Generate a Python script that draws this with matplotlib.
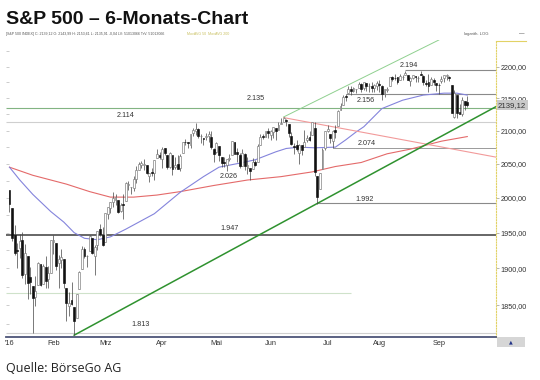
import numpy as np
import matplotlib.pyplot as plt
import matplotlib.transforms as mtrans
from matplotlib.ticker import FixedLocator, FuncFormatter, NullLocator
from matplotlib.patches import Rectangle
from matplotlib.lines import Line2D

plt.rcParams['font.family'] = ['Liberation Sans', 'DejaVu Sans']

# daily candles, 6 Jan 2016 .. 19 Sep 2016 (one row per month)
opens = [
    2011.7, 1985.3, 1946.0, 1926.1, 1927.8, 1940.3, 1891.7, 1916.7, 1888.7, 1876.2, 1861.5, 1877.4, 1906.3, 1878.8, 1902.5, 1885.2, 1894.0,
    1936.9, 1935.3, 1907.1, 1911.7, 1913.1, 1873.3, 1848.5, 1857.1, 1847.0, 1833.4, 1871.4, 1898.8, 1927.6, 1916.7, 1924.4, 1942.4, 1917.6, 1931.9, 1955.0, 1947.1,
    1937.1, 1976.6, 1985.6, 1994.0, 1996.1, 1996.1, 1981.4, 1991.0, 1994.7, 2019.3, 2015.3, 2014.2, 2026.9, 2041.2, 2047.9, 2048.6, 2048.6, 2032.5, 2037.9, 2035.8, 2058.3, 2063.8,
    2056.6, 2073.2, 2062.5, 2045.6, 2063.4, 2045.5, 2050.2, 2043.7, 2065.9, 2082.9, 2083.0, 2078.8, 2096.1, 2100.0, 2102.1, 2091.5, 2089.4, 2089.8, 2092.3, 2090.9, 2071.8,
    2067.2, 2077.2, 2060.3, 2052.9, 2047.8, 2057.6, 2062.6, 2083.3, 2067.2, 2062.5, 2046.5, 2065.0, 2044.4, 2044.2, 2041.9, 2052.2, 2052.6, 2078.9, 2091.4, 2090.1, 2100.1,
    2093.9, 2097.7, 2104.1, 2100.8, 2110.2, 2112.7, 2115.7, 2109.6, 2091.8, 2076.7, 2077.6, 2066.4, 2078.0, 2075.6, 2085.2, 2089.8, 2092.8, 2103.8, 2031.5, 2013.0, 2042.7, 2073.2,
    2099.3, 2095.1, 2084.4, 2100.4, 2107.0, 2131.7, 2139.5, 2153.8, 2157.9, 2165.1, 2162.0, 2163.8, 2166.1, 2172.9, 2166.5, 2173.7, 2169.0, 2169.8, 2166.1, 2168.8,
    2173.1, 2169.9, 2156.8, 2163.5, 2168.8, 2183.8, 2182.2, 2182.8, 2178.0, 2183.7, 2186.1, 2186.2, 2177.8, 2181.9, 2184.2, 2181.6, 2187.8, 2185.1, 2173.3, 2175.1, 2170.2, 2179.5, 2173.6,
    2171.3, 2177.5, 2181.6, 2185.2, 2182.8, 2170.9, 2120.9, 2155.4, 2127.9, 2125.4, 2146.5, 2144.0,
]
highs = [
    2011.7, 1985.3, 1960.4, 1935.7, 1947.4, 1950.3, 1934.5, 1916.7, 1901.4, 1876.2, 1889.9, 1908.9, 1906.3, 1906.7, 1917.0, 1903.0, 1940.2,
    1947.2, 1935.3, 1918.0, 1927.4, 1913.1, 1873.3, 1868.3, 1881.6, 1847.0, 1864.8, 1895.8, 1930.7, 1930.0, 1918.8, 1946.7, 1942.4, 1932.1, 1951.8, 1963.0, 1958.3,
    1978.4, 1986.5, 1993.7, 2009.1, 2006.1, 1996.1, 1992.7, 2005.1, 2022.4, 2024.6, 2015.9, 2032.0, 2046.2, 2052.4, 2053.9, 2056.6, 2048.6, 2036.0, 2043.7, 2056.0, 2072.2, 2067.9,
    2075.1, 2074.0, 2062.5, 2067.3, 2063.4, 2060.6, 2062.9, 2065.1, 2083.2, 2087.8, 2083.2, 2094.7, 2104.1, 2111.1, 2103.8, 2094.3, 2089.4, 2096.9, 2099.9, 2099.1, 2073.9,
    2083.4, 2077.2, 2060.3, 2060.2, 2057.7, 2064.2, 2084.9, 2083.3, 2073.0, 2066.8, 2071.9, 2065.7, 2060.6, 2044.2, 2058.4, 2055.6, 2079.7, 2094.7, 2094.3, 2099.1, 2103.5,
    2101.0, 2105.3, 2104.1, 2113.4, 2119.2, 2120.6, 2117.6, 2109.6, 2098.1, 2081.3, 2085.7, 2079.6, 2078.0, 2100.7, 2093.7, 2099.7, 2113.3, 2113.3, 2031.5, 2036.1, 2073.1, 2098.9,
    2108.7, 2095.1, 2100.7, 2109.1, 2131.7, 2143.2, 2155.4, 2156.5, 2169.0, 2169.1, 2168.4, 2164.6, 2175.6, 2174.6, 2175.1, 2173.7, 2173.5, 2175.0, 2172.9, 2177.1,
    2178.3, 2170.2, 2163.8, 2168.2, 2182.9, 2185.4, 2187.7, 2183.4, 2188.5, 2186.3, 2193.8, 2186.2, 2183.1, 2187.0, 2185.0, 2185.2, 2193.4, 2186.7, 2179.0, 2187.9, 2183.5, 2182.3, 2173.6,
    2173.6, 2184.9, 2186.6, 2187.9, 2184.9, 2170.9, 2163.3, 2155.4, 2141.3, 2151.3, 2146.5, 2153.6,
]
lows = [
    1979.1, 1938.8, 1918.5, 1901.1, 1914.4, 1886.5, 1878.9, 1857.8, 1864.6, 1812.3, 1849.0, 1877.4, 1876.0, 1878.8, 1872.7, 1873.7, 1894.0,
    1920.3, 1897.8, 1872.7, 1900.5, 1872.7, 1828.5, 1834.9, 1850.3, 1810.1, 1833.4, 1871.4, 1898.8, 1915.1, 1902.2, 1924.4, 1919.4, 1891.0, 1925.4, 1945.8, 1931.8,
    1937.1, 1968.9, 1977.4, 1986.8, 1989.4, 1977.4, 1979.8, 1969.3, 1994.7, 2012.1, 2005.2, 2010.0, 2022.2, 2041.2, 2043.1, 2040.6, 2034.9, 2022.5, 2032.3, 2026.2, 2058.3, 2057.5,
    2044.0, 2062.6, 2042.6, 2043.1, 2033.8, 2041.7, 2041.9, 2039.7, 2065.9, 2078.1, 2073.0, 2073.7, 2091.7, 2094.0, 2088.5, 2081.2, 2077.5, 2085.8, 2082.3, 2071.6, 2052.3,
    2066.1, 2054.9, 2045.6, 2045.8, 2039.5, 2054.6, 2062.6, 2064.5, 2053.1, 2043.1, 2046.5, 2040.8, 2034.5, 2025.9, 2041.9, 2047.3, 2052.6, 2078.9, 2087.1, 2090.1, 2088.7,
    2085.1, 2088.6, 2085.4, 2100.8, 2110.2, 2112.7, 2107.0, 2090.0, 2078.5, 2064.1, 2069.8, 2050.4, 2062.8, 2075.6, 2083.0, 2084.4, 2092.8, 2032.6, 1991.7, 2013.0, 2042.7, 2070.0,
    2097.9, 2080.9, 2074.0, 2089.4, 2107.0, 2131.7, 2139.5, 2146.2, 2157.9, 2155.5, 2159.6, 2159.0, 2166.1, 2159.8, 2163.2, 2162.0, 2160.2, 2159.1, 2159.7, 2163.5,
    2159.1, 2147.6, 2152.0, 2159.1, 2168.8, 2177.9, 2178.6, 2172.0, 2178.0, 2179.4, 2186.1, 2178.1, 2168.5, 2180.5, 2175.1, 2176.0, 2186.8, 2171.3, 2169.7, 2160.4, 2170.2, 2170.4, 2161.4,
    2157.1, 2173.6, 2175.1, 2179.1, 2177.5, 2127.8, 2119.1, 2119.9, 2125.3, 2122.4, 2131.2, 2135.9,
]
closes = [
    1990.3, 1943.1, 1922.0, 1923.7, 1938.7, 1890.3, 1921.8, 1880.3, 1881.3, 1859.3, 1869.0, 1906.9, 1877.1, 1903.6, 1883.0, 1893.4, 1940.2,
    1939.4, 1903.0, 1912.5, 1915.5, 1880.1, 1853.4, 1852.2, 1851.9, 1829.1, 1864.8, 1895.6, 1926.8, 1917.8, 1917.8, 1945.5, 1921.3, 1929.8, 1951.7, 1948.1, 1932.2,
    1978.4, 1986.5, 1993.4, 2000.0, 2001.8, 1979.3, 1989.3, 1989.6, 2022.2, 2019.6, 2015.9, 2027.2, 2040.6, 2049.6, 2051.6, 2049.8, 2036.7, 2035.9, 2037.1, 2055.0, 2064.0, 2059.7,
    2072.8, 2066.1, 2045.2, 2066.7, 2041.9, 2047.6, 2042.0, 2061.7, 2082.4, 2082.8, 2080.7, 2094.3, 2100.8, 2102.4, 2091.5, 2091.6, 2087.8, 2091.7, 2095.2, 2075.8, 2065.3,
    2081.4, 2063.4, 2051.1, 2050.6, 2057.1, 2058.7, 2084.4, 2064.5, 2064.1, 2046.6, 2066.7, 2047.2, 2047.6, 2040.0, 2052.3, 2048.0, 2076.1, 2090.5, 2090.1, 2099.1, 2097.0,
    2099.3, 2105.3, 2099.1, 2109.4, 2112.1, 2119.1, 2115.5, 2096.1, 2079.1, 2075.3, 2071.5, 2078.0, 2071.2, 2083.3, 2088.9, 2085.5, 2113.3, 2037.4, 2000.5, 2036.1, 2070.8, 2098.9,
    2103.0, 2088.6, 2099.7, 2097.9, 2129.9, 2137.2, 2152.1, 2152.4, 2163.8, 2161.7, 2166.9, 2163.8, 2173.0, 2165.2, 2175.0, 2168.5, 2169.2, 2166.6, 2170.1, 2173.6,
    2170.8, 2157.0, 2163.8, 2164.3, 2182.9, 2180.9, 2181.7, 2175.5, 2185.8, 2184.1, 2190.2, 2178.2, 2182.2, 2187.0, 2183.9, 2182.6, 2186.9, 2175.4, 2172.5, 2169.0, 2180.4, 2176.1, 2171.0,
    2170.9, 2180.0, 2186.5, 2186.2, 2181.3, 2127.8, 2159.0, 2127.0, 2125.8, 2147.3, 2139.2, 2139.1,
]

month_pos = [0, 17, 37, 59, 80, 101, 123, 143, 166]
month_lbl = ["'16", "Feb", "Mrz", "Apr", "Mai", "Jun", "Jul", "Aug", "Sep"]

# moving averages (trading-day index, value)
ma50_x = [0, 4, 9, 16, 21, 25, 29, 34, 39, 45, 56, 66, 75, 81, 89, 95, 103, 107, 112, 118, 126, 130, 134, 137, 144, 152, 160, 168, 173, 177]
ma50_y = [2045, 2026, 2005, 1980, 1965, 1950, 1942, 1940, 1944, 1955, 1977, 2008, 2031, 2045, 2051, 2056, 2068, 2073, 2075, 2074, 2075, 2086, 2098, 2106, 2134, 2147, 2155, 2158, 2158, 2155]
ma200_x = [0, 9, 16, 22, 31, 39, 48, 57, 66, 79, 92, 105, 117, 126, 136, 146, 155, 167, 177]
ma200_y = [2045, 2033, 2026, 2020, 2009, 2001, 2001, 2004, 2009, 2018, 2026, 2031, 2038, 2046, 2052, 2065, 2072, 2084, 2091]

# trend lines
support_x, support_y = [25, 188.1], [1810, 2137]
channel_x, channel_y = [106, 166], [2121, 2243]
resist_x, resist_y = [106, 188.1], [2120, 2060]

# horizontal levels: value, start/end index (None = chart edge), colour, width
levels = [2194, 2156, 2135, 2114, 2074, 1992, 1947, 1866, 1813]
level_start = [153, 130, None, None, 125, 119, None, None, None]
level_end = [None, None, None, None, None, None, None, 132, None]
level_col = ['#8a8a8a', '#8a8a8a', '#82b482', '#cfcfcf', '#9a9a9a', '#8a8a8a', '#5a5a5a', '#cfe2ca', '#d0d0d0']
level_lw = [0.8, 0.8, 0.8, 0.8, 0.7, 0.8, 1.3, 0.8, 0.8]

lbl_text = ['2.194', '2.156', '2.135', '2.114', '2.074', '2.026', '1.992', '1.947', '1.813']
lbl_x = [154.5, 137.9, 95.3, 45.0, 138.2, 84.9, 137.1, 85.0, 50.5]
lbl_y = [2202.4, 2147.1, 2150.2, 2123.8, 2080.6, 2031.0, 1998.0, 1956.4, 1824.2]

yticks = [1850, 1900, 1950, 2000, 2050, 2100, 2150, 2200]
left_marks = [1825, 1850, 1875, 1900, 1925, 1950, 1975, 2000, 2025, 2050, 2075, 2100, 2125, 2150, 2175, 2200, 2225]
last_price = 2139.12

W, H = 540, 380
def fx(px):
    return px / W
def fy(py):
    return 1 - py / H

fig = plt.figure(figsize=(5.4, 3.8), dpi=100)
ax = fig.add_axes([fx(6), fy(336.7), fx(496) - fx(6), fy(40) - fy(336.7)])
ax.set_yscale('log')
x0, x1 = -1.35, 188.1
ax.set_xlim(x0, x1)
ax.set_ylim(1808, 2243)

# levels
for v, s, e, c, lw in zip(levels, level_start, level_end, level_col, level_lw):
    ax.hlines(v, x0 if s is None else s, x1 if e is None else e, color=c, lw=lw, zorder=1)

# moving averages and trend lines
ax.plot(ma200_x, ma200_y, color='#e46a6a', lw=0.8, zorder=2)
ax.plot(ma50_x, ma50_y, color='#8484dc', lw=0.8, zorder=2)
ax.plot(resist_x, resist_y, color='#f29a9a', lw=0.8, zorder=2)
ax.plot(channel_x, channel_y, color='#8fd08f', lw=0.7, zorder=2)
ax.plot(support_x, support_y, color='#2f922f', lw=1.1, zorder=2)

# candles
o = np.array(opens)
h = np.array(highs)
l = np.array(lows)
c = np.array(closes)
x = np.arange(len(c))
up = c >= o
lo = np.minimum(o, c)
ht = np.maximum(np.abs(c - o), 0.4)
ax.vlines(x, l, h, color='#444444', lw=0.5, zorder=3)
ax.bar(x[up], ht[up], bottom=lo[up], width=0.72, color='white', edgecolor='#777777', linewidth=0.45, zorder=4)
ax.bar(x[~up], ht[~up], bottom=lo[~up], width=0.72, color='#111111', edgecolor='#111111', linewidth=0.45, zorder=4)

for t, tx, ty in zip(lbl_text, lbl_x, lbl_y):
    ax.text(tx, ty, t, ha='center', va='center', fontsize=5.2, color='#333333', zorder=5)

# axes styling
for s in ['top', 'left']:
    ax.spines[s].set_visible(False)
ax.spines['right'].set_color('#e2d266')
ax.spines['right'].set_linestyle((0, (1, 1.5)))
ax.spines['right'].set_linewidth(0.8)
ax.spines['bottom'].set_color('#4d5578')
ax.spines['bottom'].set_linewidth(1.3)

ax.yaxis.tick_right()
ax.yaxis.set_major_locator(FixedLocator(yticks))
ax.yaxis.set_minor_locator(NullLocator())
ax.yaxis.set_major_formatter(FuncFormatter(lambda v, p: f"{v:.2f}".replace('.', ',')))
ax.tick_params(axis='y', length=2, width=0.5, color='#999999', labelsize=5.2, labelcolor='#333333', pad=1.5)
ax.set_xticks(month_pos, month_lbl)
ax.tick_params(axis='x', length=0, labelsize=5.3, labelcolor='#333333', pad=2.5)

sec = ax.secondary_yaxis('left')
sec.yaxis.set_major_locator(FixedLocator(left_marks))
sec.yaxis.set_minor_locator(NullLocator())
sec.tick_params(direction='in', length=2, width=0.6, color='#c4c4c4', labelleft=False)
sec.spines['left'].set_visible(False)

# last price tag
trans = mtrans.blended_transform_factory(ax.transAxes, ax.transData)
ax.text(1.004, last_price, f"{last_price:.2f}".replace('.', ','), transform=trans, ha='left', va='center',
        fontsize=5.6, color='#333333', clip_on=False, zorder=6,
        bbox=dict(boxstyle='square,pad=0.18', fc='#c9c9c9', ec='none'))

# decorations around the chart
fig.add_artist(Line2D([fx(496), fx(526)], [fy(41), fy(41)], color='#e2d266', lw=0.8))
fig.add_artist(Rectangle((fx(497), fy(347)), fx(28), 10 / H, transform=fig.transFigure, fc='#d6d6d6', ec='none'))
fig.text(fx(511), fy(342), '▲', fontsize=3.5, color='#223388', ha='center', va='center', family='DejaVu Sans')
fig.text(fx(464), fy(34), 'logarith. LOG', fontsize=3, color='#555555', va='center')
fig.text(fx(519), fy(33.5), '—', fontsize=4, color='#333333', va='center')

fig.text(fx(6), fy(20), 'S&P 500 – 6-Monats-Chart', fontsize=14, fontweight='bold',
         family=['Liberation Sans'], va='center', color='#111111')
fig.text(fx(6), fy(34), '[S&P 500 INDEX] C: 2139,12 O: 2143,99 H: 2153,61 L: 2135,91 -0,04 LV: 51013066 TrV: 51013066',
         fontsize=2.6, color='#555555', va='center')
fig.text(fx(187), fy(34), 'MovAVG 50  MovAVG 200', fontsize=2.6, color='#c9c060', va='center')
fig.text(fx(6), fy(369), 'Quelle: BörseGo AG', fontsize=9, family=['Open Sans', 'DejaVu Sans'],
         color='#222222', va='center')

fig.savefig('out.png', dpi=100)
